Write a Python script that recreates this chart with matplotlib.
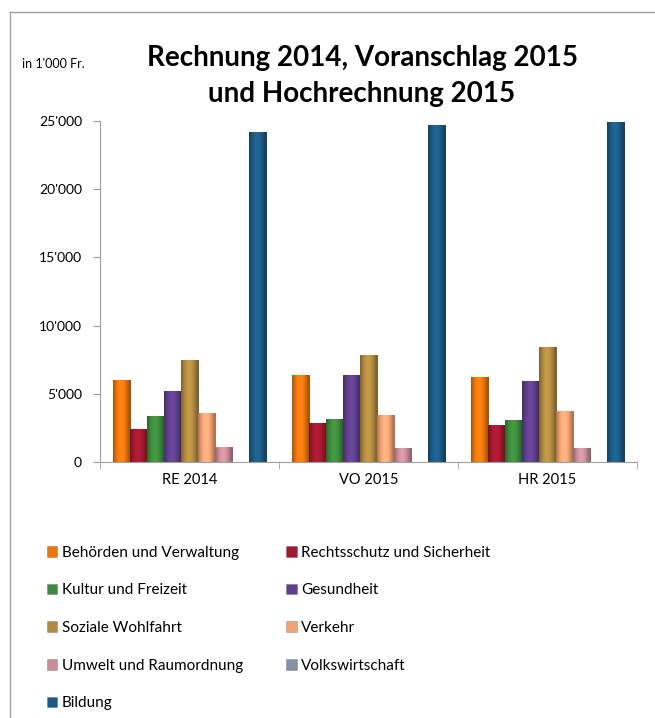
import matplotlib.pyplot as plt
import numpy as np
from matplotlib.lines import Line2D
from matplotlib.colors import to_rgb

plt.rcParams['font.family'] = ['Lato', 'DejaVu Sans']

# Data (in 1'000 Fr.)
groups = ["RE 2014", "VO 2015", "HR 2015"]
series = ["Behörden und Verwaltung", "Rechtsschutz und Sicherheit", "Kultur und Freizeit",
          "Gesundheit", "Soziale Wohlfahrt", "Verkehr", "Umwelt und Raumordnung",
          "Volkswirtschaft", "Bildung"]
behoerden = [6000, 6400, 6230]
rechtsschutz = [2400, 2860, 2740]
kultur = [3380, 3180, 3100]
gesundheit = [5200, 6400, 5940]
soziale = [7500, 7870, 8430]
verkehr = [3600, 3470, 3740]
umwelt = [1100, 1050, 1050]
volkswirtschaft = [0, 0, 0]
bildung = [24200, 24700, 24950]
values = [behoerden, rechtsschutz, kultur, gesundheit, soziale, verkehr, umwelt,
          volkswirtschaft, bildung]
colors = ["#EC760E", "#A3192F", "#3E8A3C", "#5F3F8C", "#B18A40", "#F2A274",
          "#C98D99", "#8391A3", "#1C5B86"]
yticks = [0, 5000, 10000, 15000, 20000, 25000]
ytick_labels = ["0", "5'000", "10'000", "15'000", "20'000", "25'000"]

fig = plt.figure(figsize=(6.55, 7.18), dpi=100)
ax = fig.add_axes([100 / 655, 256 / 718, 537 / 655, 341 / 718])

n = len(series)
width = 0.095
x = np.arange(len(groups))
t = np.linspace(0, 1, 40)
shade = 0.72 + 0.4 * np.sin(np.pi * np.clip(t * 1.1, 0, 1))

handles = []
for i, (name, vals, col) in enumerate(zip(series, values, colors)):
    offs = (i - (n - 1) / 2) * width
    b = ax.bar(x + offs, vals, width, color=col, edgecolor="#00000030", linewidth=0.6, label=name)
    handles.append(b)
    # cylinder-like shading on each bar
    rgb = np.array(to_rgb(col))
    img = np.clip(rgb[None, None, :] * shade[None, :, None], 0, 1)
    for p in b.patches:
        h = p.get_height()
        if h <= 0:
            continue
        x0 = p.get_x()
        im = ax.imshow(img, extent=[x0, x0 + p.get_width(), 0, h], aspect='auto',
                       zorder=p.get_zorder() + 0.1, interpolation='bilinear')
        im.set_clip_path(p)

ax.set_xlim(-0.5, len(groups) - 0.5)
ax.set_ylim(0, 25000)
ax.set_yticks(yticks)
ax.set_yticklabels(ytick_labels, fontsize=10)
ax.set_xticks(x)
ax.set_xticklabels(groups, fontsize=10.5)
ax.tick_params(axis='x', length=0, pad=8)
ax.set_xticks(np.arange(len(groups) + 1) - 0.5, minor=True)
ax.tick_params(axis='x', which='minor', length=5, color="#A0A0A0")
ax.tick_params(axis='y', length=5, color="#A0A0A0", pad=8)
for s in ["top", "right"]:
    ax.spines[s].set_visible(False)
for s in ["left", "bottom"]:
    ax.spines[s].set_color("#A0A0A0")
    ax.spines[s].set_zorder(5)

fig.text(362 / 655, 1 - 76 / 718, "Rechnung 2014, Voranschlag 2015\nund Hochrechnung 2015",
         ha='center', va='center', fontsize=20, fontweight='bold', linespacing=1.45)
fig.text(22 / 655, 1 - 64 / 718, "in 1'000 Fr.", ha='left', va='center', fontsize=9)

order = [0, 2, 4, 6, 8, 1, 3, 5, 7]
fig.legend([handles[i] for i in order], [series[i] for i in order], ncol=2,
           loc='upper left', bbox_to_anchor=(33 / 655, 1 - 532 / 718), frameon=False,
           fontsize=11, handlelength=0.7, handleheight=0.7, handletextpad=0.3,
           labelspacing=1.55, columnspacing=2.8)

# chart border (partially visible)
fig.add_artist(Line2D([10 / 655, 1], [1 - 12 / 718, 1 - 12 / 718], color="#A0A0A0", lw=1))
fig.add_artist(Line2D([10 / 655, 10 / 655], [0, 1 - 12 / 718], color="#A0A0A0", lw=1))

fig.savefig("out.png", dpi=100)
